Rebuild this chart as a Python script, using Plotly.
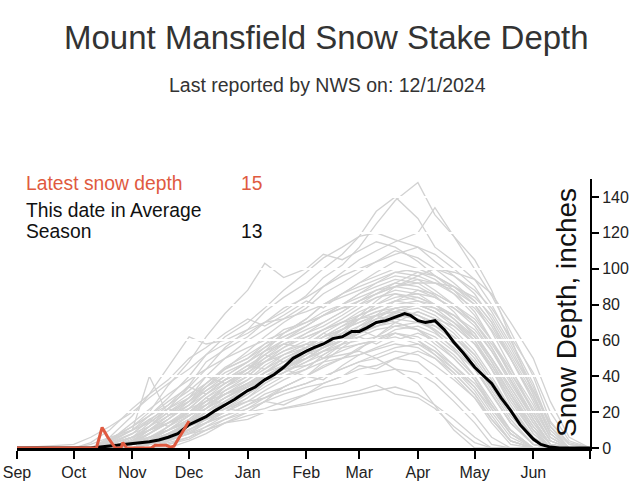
import plotly.graph_objects as go

# ---------------- data ----------------
grid_dates = ["2024-09-01", "2024-10-01", "2024-10-10", "2024-10-20", "2024-11-01", "2024-11-10",
              "2024-11-20", "2024-12-01", "2024-12-10", "2024-12-20", "2025-01-01", "2025-01-10",
              "2025-01-20", "2025-02-01", "2025-02-10", "2025-02-20", "2025-03-01", "2025-03-10",
              "2025-03-20", "2025-04-01", "2025-04-10", "2025-04-20", "2025-05-01", "2025-05-10",
              "2025-05-20", "2025-06-01", "2025-06-10", "2025-06-20", "2025-07-01"]

past_seasons = [
    [0,0,0,2,8,15,24,35,48,55,62,70,76,85,95,102,112,125,138,148,130,118,105,88,62,30,8,0,0],
    [0,0,0,5,12,20,35,48,62,75,88,103,95,100,108,105,110,115,112,104,96,90,80,65,45,20,4,0,0],
    [0,0,0,0,4,10,18,28,40,50,60,66,72,80,90,98,105,110,115,120,134,118,100,85,65,40,15,2,0],
    [0,0,0,0,0,2,5,8,10,14,18,20,22,25,28,30,32,35,30,28,22,12,3,0,0,0,0,0,0],
    [0,0,0,0,3,6,10,15,22,28,35,40,44,50,56,60,64,70,75,72,65,55,40,24,8,0,0,0,0],
    [0,0,2,6,10,14,22,30,36,45,52,58,62,68,74,78,82,88,92,90,85,76,62,48,30,10,0,0,0],
    [0,0,0,0,0,3,8,12,16,20,28,34,40,46,50,54,58,60,64,62,56,46,34,20,6,0,0,0,0],
    [0,0,0,0,2,5,12,20,28,34,40,48,54,60,66,72,78,84,86,82,78,70,58,44,26,8,0,0,0],
    [0,0,0,3,8,12,18,22,26,30,34,38,40,44,48,50,52,55,58,56,50,40,28,14,2,0,0,0,0],
    [0,0,0,0,0,0,2,6,12,18,24,30,34,40,45,50,55,62,68,70,68,62,52,38,22,6,0,0,0],
    [0,0,0,0,4,8,14,20,28,36,44,52,60,68,74,80,86,92,98,100,100,96,88,78,62,42,20,4,0],
    [0,0,0,0,0,4,10,18,24,30,36,42,48,52,58,62,66,70,76,78,74,66,54,40,22,5,0,0,0],
    [0,0,0,0,2,6,10,14,18,24,30,36,42,50,56,60,64,68,72,76,72,68,58,46,30,12,2,0,0],
    [0,0,0,0,0,0,3,6,10,14,16,20,22,24,26,28,30,32,34,30,24,16,6,0,0,0,0,0,0],
    [0,0,0,4,14,22,30,38,44,50,56,60,64,70,74,78,80,84,88,86,80,72,60,44,24,6,0,0,0],
    [0,0,0,0,0,2,6,10,14,20,26,32,38,44,52,58,66,74,82,88,86,80,70,56,38,16,2,0,0],
    [0,0,0,0,5,12,20,26,32,38,44,48,52,56,60,64,66,68,70,66,58,50,38,24,10,0,0,0,0],
    [0,0,0,0,0,3,7,12,18,22,26,28,32,36,40,44,48,52,56,58,54,46,36,24,10,0,0,0,0],
    [0,0,0,2,6,12,22,34,44,56,66,76,84,92,100,108,118,132,140,128,112,104,94,80,60,36,12,0,0],
    [0,0,0,0,0,0,4,10,16,24,32,38,44,50,54,58,60,62,64,60,54,44,32,18,4,0,0,0,0],
    [0,0,0,0,2,4,8,14,20,26,32,38,44,52,60,66,72,76,80,82,80,74,64,50,34,14,2,0,0],
    [0,0,0,0,0,2,4,8,12,16,20,22,26,30,34,36,40,42,44,42,36,26,14,2,0,0,0,0,0],
    [0,0,0,0,3,8,14,22,30,38,44,50,56,62,66,70,74,78,82,84,80,72,62,48,30,10,0,0,0],
    [0,0,0,0,4,10,16,24,34,44,54,62,70,78,86,92,98,104,110,106,100,92,82,70,52,30,10,0,0],
    [0,0,0,2,6,10,14,18,22,28,34,40,46,50,54,56,58,60,62,58,52,44,34,22,8,0,0,0,0],
    [0,0,0,0,0,2,6,12,20,28,34,40,46,52,56,62,66,72,74,72,66,58,48,34,18,4,0,0,0],
    [0,0,0,0,2,6,12,18,24,30,36,40,44,46,50,52,54,50,44,36,24,10,0,0,0,0,0,0,0],
    [0,0,0,0,0,4,8,14,22,30,38,46,52,58,64,70,76,80,84,86,84,78,68,54,36,16,2,0,0],
    [0,0,0,3,10,40,18,24,30,36,42,48,54,58,62,66,70,74,78,80,76,68,58,44,28,10,0,0,0],
    [0,0,0,0,0,0,2,5,10,16,22,28,34,40,46,50,56,60,66,68,64,56,44,30,14,2,0,0,0],
    [0,0,0,4,10,18,28,40,52,62,70,78,88,98,106,112,118,120,116,112,104,96,86,72,54,32,12,2,0],
    [0,0,0,0,3,6,10,16,22,28,36,42,48,54,58,64,68,72,78,80,76,70,60,46,28,8,0,0,0],
    [0,0,0,6,18,30,45,62,58,60,66,70,72,76,80,84,88,92,96,94,88,80,70,56,38,16,2,0,0],
    [0,0,0,0,0,2,5,9,14,18,24,28,32,36,40,44,48,50,54,52,46,38,28,16,4,0,0,0,0],
    [0,0,0,0,2,4,8,12,18,26,34,42,50,56,62,66,70,74,76,74,70,62,50,36,20,4,0,0,0],
    [0,0,0,0,0,4,10,18,26,34,42,50,58,64,70,76,82,86,90,92,92,90,84,74,56,32,14,3,0],
    [0,0,3,10,22,30,38,50,56,64,72,68,74,82,78,86,92,98,104,100,96,88,76,60,40,18,4,0,0],
    [0,0,0,4,12,18,26,34,30,38,46,52,48,56,64,60,68,74,70,76,72,64,52,38,20,4,0,0,0],
    [0,0,0,0,6,14,22,18,26,34,42,38,46,54,50,58,66,62,70,66,60,50,38,22,8,0,0,0,0],
    [0,2,6,12,20,28,36,44,52,58,64,70,78,84,90,96,100,104,108,112,108,100,90,76,58,34,12,0,0],
    [0,0,0,0,0,0,0,4,8,14,20,26,24,30,36,40,46,44,50,54,50,42,30,16,4,0,0,0,0],
    [0,0,0,2,8,16,12,20,28,24,32,40,44,40,48,56,62,58,64,60,52,42,30,16,4,0,0,0,0],
    [0,0,0,0,2,8,16,26,36,44,50,56,64,72,80,86,90,94,98,96,92,86,78,66,50,28,8,0,0],
    [0,0,0,0,0,4,12,22,30,38,46,44,52,58,56,64,72,80,86,84,80,74,64,50,32,12,0,0,0],
    [0,0,0,0,4,12,20,28,34,42,48,54,60,66,70,76,82,86,90,96,100,98,94,86,70,50,26,6,0],
    [0,0,0,5,12,18,24,32,40,36,44,52,58,56,62,68,72,76,78,74,70,60,48,32,16,2,0,0,0],
    [0,0,0,0,0,2,6,14,22,32,40,48,56,64,68,74,80,86,92,98,96,90,82,70,50,26,6,0,0],
    [0,0,0,0,3,6,10,16,24,34,44,54,64,72,80,86,92,96,100,98,94,86,74,60,42,20,4,0,0],
    [0,0,0,0,0,4,8,12,16,22,20,26,34,40,38,46,52,56,60,64,60,52,40,26,10,0,0,0,0],
    [0,0,0,4,10,16,22,28,36,44,50,58,66,70,76,80,86,90,94,92,86,80,72,60,44,24,6,0,0],
    [0,0,0,0,2,8,14,20,26,32,38,44,50,56,62,68,74,78,82,80,76,70,62,50,34,14,2,0,0],
    [0,0,0,0,0,2,6,10,14,18,22,26,30,34,36,40,44,46,50,48,40,30,18,6,0,0,0,0,0],
    [0,0,0,2,6,10,16,24,32,40,48,56,62,68,74,80,84,88,90,88,84,78,70,58,42,22,6,0,0],
    [0,0,0,0,3,10,18,26,34,40,48,54,58,62,66,70,72,74,76,74,68,60,48,34,18,4,0,0,0],
    [0,0,0,0,0,0,4,8,14,22,28,36,42,48,52,58,64,68,72,70,66,58,46,30,14,2,0,0,0],
    [0,0,0,0,2,4,6,10,16,22,30,38,44,52,58,66,74,82,90,94,92,88,80,68,50,28,8,0,0],
    [0,0,0,2,6,10,14,20,24,30,36,42,46,50,56,60,62,66,68,66,62,54,44,30,14,2,0,0,0],
    [0,0,0,0,0,3,8,14,20,26,32,38,42,48,54,60,66,70,76,80,78,74,66,54,38,18,4,0,0],
]

avg_dates = ["2024-09-01", "2024-10-10", "2024-10-15", "2024-10-20", "2024-10-25", "2024-11-01",
             "2024-11-05", "2024-11-10", "2024-11-15", "2024-11-20", "2024-11-25", "2024-12-01",
             "2024-12-05", "2024-12-10", "2024-12-15", "2024-12-20", "2024-12-25", "2025-01-01",
             "2025-01-05", "2025-01-10", "2025-01-15", "2025-01-20", "2025-01-25", "2025-02-01",
             "2025-02-05", "2025-02-10", "2025-02-15", "2025-02-20", "2025-02-25", "2025-03-01",
             "2025-03-05", "2025-03-10", "2025-03-15", "2025-03-20", "2025-03-25", "2025-03-28",
             "2025-04-01", "2025-04-05", "2025-04-10", "2025-04-15", "2025-04-20", "2025-04-25",
             "2025-05-01", "2025-05-05", "2025-05-10", "2025-05-15", "2025-05-20", "2025-05-25",
             "2025-06-01", "2025-06-05", "2025-06-10", "2025-06-15", "2025-07-01"]
avg_depth = [0, 0, 0.5, 1, 1.5, 2.5,
             3, 3.5, 4.5, 6, 8, 13,
             15, 17.5, 21, 24, 27, 32,
             34, 38, 41, 45, 50, 54,
             56, 58, 61, 62, 65, 65,
             67, 70, 71, 73, 75, 74,
             71, 70, 71, 66, 59, 53,
             45, 41, 36, 28, 21, 13,
             5, 2, 0.5, 0, 0]

cur_dates = ["2024-09-01", "2024-10-13", "2024-10-16", "2024-10-19", "2024-10-23", "2024-10-26",
             "2024-10-27", "2024-10-29", "2024-11-11", "2024-11-13", "2024-11-19", "2024-11-21",
             "2024-11-23", "2024-11-27", "2024-12-01"]
cur_depth = [0, 0, 11.5, 6, 0, 0,
             3, 0, 0, 1.5, 1.5, 0.5,
             1, 8, 15]

month_ticks = ["2024-09-01", "2024-10-01", "2024-11-01", "2024-12-01", "2025-01-01", "2025-02-01",
               "2025-03-01", "2025-04-01", "2025-05-01", "2025-06-01", "2025-07-01"]
month_labels = ["Sep", "Oct", "Nov", "Dec", "Jan", "Feb", "Mar", "Apr", "May", "Jun", ""]
depth_ticks = [0, 20, 40, 60, 80, 100, 120, 140]

latest_value = 15
average_value = 13

# ---------------- figure ----------------
FONT = "Liberation Sans, Arial, Helvetica, sans-serif"
GRAY = "#d2d2d2"
RED = "#E05A40"

fig = go.Figure()
for s in past_seasons:
    fig.add_trace(go.Scatter(x=grid_dates, y=s, mode="lines", xaxis="x", yaxis="y",
                             line=dict(color=GRAY, width=1.3), hoverinfo="skip", showlegend=False))

fig.add_trace(go.Scatter(x=avg_dates, y=avg_depth, mode="lines", xaxis="x2", yaxis="y2",
                         line=dict(color="black", width=3), showlegend=False))
fig.add_trace(go.Scatter(x=cur_dates, y=cur_depth, mode="lines", xaxis="x2", yaxis="y2",
                         line=dict(color=RED, width=3), showlegend=False))

xrange = ["2024-09-01", "2025-07-01"]
fig.update_layout(
    width=640, height=491,
    margin=dict(l=17, r=50, t=179, b=43),
    paper_bgcolor="white", plot_bgcolor="rgba(0,0,0,0)",
    font=dict(family=FONT, color="#222"),
    xaxis=dict(domain=[0, 1], range=xrange, type="date", visible=False, anchor="y",
               automargin=False),
    yaxis=dict(domain=[0, 1], range=[0, 150], visible=False, anchor="x", automargin=False),
    xaxis2=dict(domain=[0, 1], range=xrange, type="date", anchor="y2", automargin=False,
                tickmode="array", tickvals=month_ticks, ticktext=month_labels,
                ticks="outside", ticklen=8, tickwidth=2, tickcolor="black",
                showline=True, linecolor="black", linewidth=2.5,
                showgrid=False, zeroline=False,
                tickfont=dict(size=16, color="#222", family=FONT)),
    yaxis2=dict(domain=[0, 1], range=[0, 150], anchor="x2", side="right", automargin=False,
                tickmode="array", tickvals=depth_ticks,
                ticks="outside", ticklen=7, tickwidth=1.5, tickcolor="black",
                showline=True, linecolor="black", linewidth=2,
                showgrid=True, gridcolor="white", gridwidth=1.5, zeroline=False,
                tickfont=dict(size=16, color="#222", family=FONT)),
)

def px_x(px):
    return (px - 17) / 573.0

def px_y(py):
    return (448 - py) / 269.0

anns = [
    dict(text="Mount Mansfield Snow Stake Depth", x=px_x(326), y=px_y(37),
         font=dict(size=33, color="#333")),
    dict(text="Last reported by NWS on: 12/1/2024", x=px_x(327), y=px_y(85),
         font=dict(size=19.5, color="#333")),
    dict(text="Latest snow depth", x=px_x(24), y=px_y(183), xanchor="left",
         font=dict(size=19.3, color=RED)),
    dict(text=str(latest_value), x=px_x(239), y=px_y(183), xanchor="left",
         font=dict(size=19.3, color=RED)),
    dict(text="This date in Average", x=px_x(24), y=px_y(210), xanchor="left",
         font=dict(size=19.3, color="#111")),
    dict(text="Season", x=px_x(24), y=px_y(231), xanchor="left",
         font=dict(size=19.3, color="#111")),
    dict(text=str(average_value), x=px_x(239), y=px_y(231), xanchor="left",
         font=dict(size=19.3, color="#111")),
    dict(text="Snow Depth, inches", x=px_x(566), y=px_y(313), textangle=-90,
         font=dict(size=28, color="#111")),
]
for a in anns:
    a.setdefault("xanchor", "center")
    fig.add_annotation(xref="paper", yref="paper", showarrow=False, yanchor="middle",
                       **{k: v for k, v in a.items() if k != "font"},
                       font=dict(family=FONT, **a["font"]))

fig.write_html("out.html", config={"displayModeBar": False},
               post_script="document.body.style.margin='0';")
